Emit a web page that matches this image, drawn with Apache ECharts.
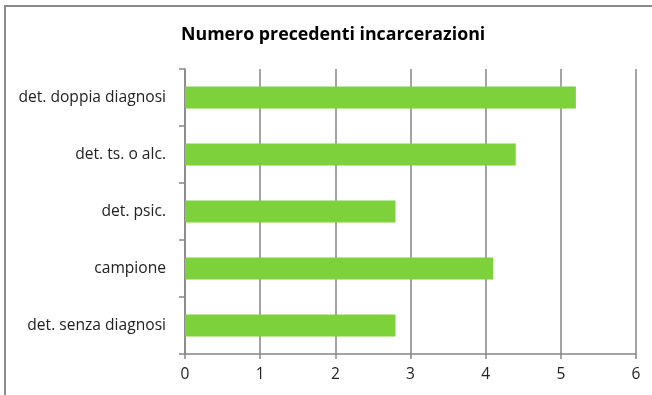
<!DOCTYPE html>
<html><head><meta charset="utf-8">
<script src="https://cdn.jsdelivr.net/npm/echarts@6/dist/echarts.min.js"></script>
<style>html,body{margin:0;padding:0;background:#fff}#c{width:652px;height:395px}</style>
</head><body><div id="c"></div>
<script>
const titleText = 'Numero precedenti incarcerazioni';
const categories = ['det. senza diagnosi', 'campione', 'det. psic.', 'det. ts. o alc.', 'det. doppia diagnosi'];
const values = [2.8, 4.1, 2.8, 4.4, 5.2];
const xTicks = [0, 1, 2, 3, 4, 5, 6];

const chart = echarts.init(document.getElementById('c'), null, {renderer: 'canvas'});
const FONT = 'Open Sans';
chart.setOption({
  animation: false,
  backgroundColor: '#fff',
  graphic: [{
    type: 'rect', shape: {x: 5, y: 6, width: 700, height: 450},
    style: {fill: 'none', stroke: '#8a8a8a', lineWidth: 2}, silent: true, z: 100
  }],
  title: {
    text: titleText, left: 176, top: 21,
    textStyle: {fontFamily: FONT, fontSize: 17.8, fontWeight: 'bold', color: '#000'}
  },
  grid: {left: 185, right: 16, top: 69, bottom: 41},
  xAxis: {
    type: 'value', min: xTicks[0], max: xTicks[xTicks.length - 1], interval: 1,
    axisLine: {show: true, lineStyle: {color: '#868686', width: 1.5}},
    axisTick: {show: true, length: 5, lineStyle: {color: '#868686', width: 1.5}},
    splitLine: {show: true, lineStyle: {color: '#868686', width: 1.5}},
    axisLabel: {fontFamily: FONT, fontSize: 15.5, color: '#222', margin: 13}
  },
  yAxis: {
    type: 'category', data: categories,
    axisLine: {show: true, lineStyle: {color: '#868686', width: 1.5}},
    axisTick: {show: true, length: 6, lineStyle: {color: '#868686', width: 1.5}},
    axisLabel: {fontFamily: FONT, fontSize: 15.6, color: '#222', margin: 19}
  },
  series: [{
    type: 'bar', data: values, barWidth: 22,
    itemStyle: {color: '#7dd13a'}
  }]
});
</script></body></html>
